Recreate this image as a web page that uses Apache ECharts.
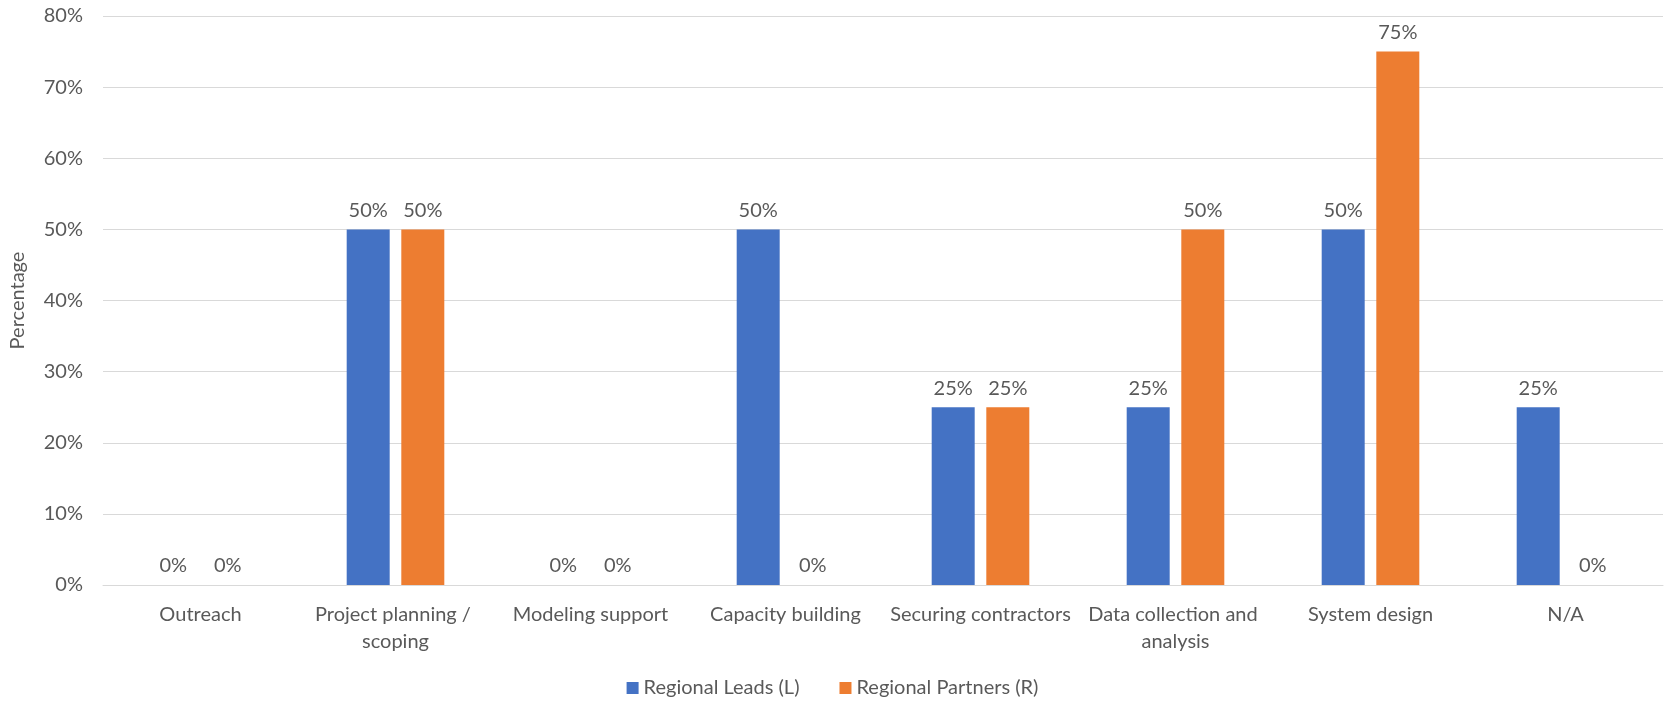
<!DOCTYPE html>
<html>
<head>
<meta charset="utf-8">
<script src="https://cdn.jsdelivr.net/npm/echarts@6/dist/echarts.min.js"></script>
<style>html,body{margin:0;padding:0;background:#fff;}#c{width:1665px;height:703px;}</style>
</head>
<body>
<div id="c"></div>
<script>
const categories = ["Outreach", "Project planning / scoping", "Modeling support", "Capacity building", "Securing contractors", "Data collection and analysis", "System design", "N/A"];
const seriesNames = ["Regional Leads (L)", "Regional Partners (R)"];
const leads = [0, 50, 0, 50, 25, 25, 50, 25];
const partners = [0, 50, 0, 0, 25, 50, 75, 0];
const yTicks = {min: 0, max: 80, interval: 10};

const FONT = 'Lato';
const TXT = '#595959';
const FS = 20;
const chart = echarts.init(document.getElementById('c'));
const labelCfg = {show: true, position: 'top', distance: 9, color: TXT, fontSize: FS, fontFamily: FONT, formatter: p => p.value + '%'};
chart.setOption({
  animation: false,
  textStyle: {fontFamily: FONT},
  grid: {left: 102, right: 2, top: 16, bottom: 118},
  legend: {
    bottom: 0, left: 'center', itemWidth: 12, itemHeight: 12, itemGap: 40,
    icon: 'rect',
    textStyle: {color: TXT, fontSize: FS, fontFamily: FONT},
    data: seriesNames
  },
  xAxis: {
    type: 'category', data: categories,
    axisLine: {lineStyle: {color: '#D9D9D9', width: 1}},
    axisTick: {show: false},
    axisLabel: {interval: 0, color: TXT, fontSize: FS, fontFamily: FONT, margin: 16, lineHeight: 27, width: 192, overflow: 'break'}
  },
  yAxis: {
    type: 'value', min: yTicks.min, max: yTicks.max, interval: yTicks.interval,
    name: 'Percentage', nameLocation: 'middle', nameGap: 75, nameRotate: 90,
    nameTextStyle: {color: TXT, fontSize: FS, fontFamily: FONT},
    axisLabel: {formatter: '{value}%', color: TXT, fontSize: FS, fontFamily: FONT, margin: 20},
    axisLine: {show: false}, axisTick: {show: false},
    splitLine: {lineStyle: {color: '#D9D9D9', width: 1}}
  },
  series: [
    {name: seriesNames[0], type: 'bar', data: leads, barWidth: 43, barGap: '27%', itemStyle: {color: '#4472C4'}, label: labelCfg},
    {name: seriesNames[1], type: 'bar', data: partners, barWidth: 43, barGap: '27%', itemStyle: {color: '#ED7D31'}, label: labelCfg}
  ]
});
</script>
</body>
</html>
